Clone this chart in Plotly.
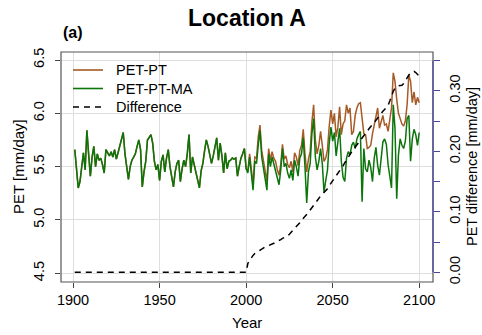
import plotly.graph_objects as go

years_hist = list(range(1901, 2001))
years_fut = list(range(2001, 2101))

# PET-PT-MA (and PET-PT, identical) 1901-2000
pet_hist = [
    5.66, 5.45, 5.30, 5.36, 5.50, 5.63, 5.47, 5.84, 5.62, 5.41,
    5.59, 5.69, 5.50, 5.62, 5.56, 5.58, 5.52, 5.44, 5.66, 5.63,
    5.60, 5.64, 5.59, 5.66, 5.57, 5.63, 5.70, 5.78, 5.82, 5.62,
    5.48, 5.38, 5.50, 5.56, 5.59, 5.62, 5.69, 5.75, 5.66, 5.31,
    5.45, 5.55, 5.75, 5.78, 5.80, 5.72, 5.55, 5.47, 5.52, 5.37,
    5.55, 5.61, 5.45, 5.58, 5.66, 5.50, 5.40, 5.31, 5.45, 5.53,
    5.56, 5.36, 5.48, 5.56, 5.50, 5.62, 5.80, 5.44, 5.59, 5.52,
    5.45, 5.38, 5.30, 5.46, 5.53, 5.65, 5.75, 5.69, 5.60, 5.53,
    5.60, 5.70, 5.77, 5.56, 5.72, 5.60, 5.44, 5.63, 5.48, 5.55,
    5.56, 5.58, 5.57, 5.58, 5.41, 5.50, 5.58, 5.62, 5.67, 5.48,
]

# PET-PT-MA 2001-2100
pet_ma_fut = [
    5.44, 5.59, 5.45, 5.28, 5.55, 5.53, 5.70, 5.84, 5.59, 5.47,
    5.40, 5.28, 5.62, 5.50, 5.59, 5.53, 5.47, 5.40, 5.33, 5.47,
    5.67, 5.50, 5.53, 5.44, 5.39, 5.47, 5.37, 5.56, 5.50, 5.41,
    5.58, 5.62, 5.77, 5.50, 5.16, 5.45, 5.53, 5.81, 5.95, 5.59,
    5.47, 5.55, 5.67, 5.53, 5.26, 5.37, 5.47, 5.72, 5.87, 5.74,
    5.82, 5.60, 5.76, 5.86, 5.55, 5.40, 5.36, 5.58, 5.64, 5.61,
    5.70, 5.73, 5.67, 5.76, 5.80, 5.83, 5.17, 5.67, 5.48, 5.45,
    5.56, 5.49, 5.36, 5.58, 5.68, 5.51, 5.42, 5.55, 5.73, 5.76,
    5.71, 5.52, 5.40, 5.30, 6.08, 5.86, 5.20, 5.61, 5.76, 5.70,
    5.67, 5.74, 5.95, 5.98, 5.55, 5.76, 5.85, 5.80, 5.70, 5.82,
]

# PET-PT 2001-2100
pet_pt_fut = [
    5.46, 5.62, 5.48, 5.33, 5.59, 5.58, 5.78, 5.89, 5.65, 5.53,
    5.46, 5.36, 5.67, 5.56, 5.64, 5.58, 5.55, 5.47, 5.42, 5.52,
    5.71, 5.57, 5.60, 5.52, 5.49, 5.55, 5.45, 5.63, 5.59, 5.51,
    5.65, 5.70, 5.85, 5.62, 5.45, 5.57, 5.64, 5.92, 6.08, 5.75,
    5.62, 5.70, 5.83, 5.70, 5.55, 5.58, 5.66, 5.88, 6.03, 5.90,
    6.00, 5.78, 5.87, 6.06, 5.80, 5.90, 5.93, 6.08, 6.00, 6.05,
    5.80, 5.83, 5.98, 6.05, 6.09, 6.10, 5.95, 5.81, 5.80, 5.67,
    5.68, 5.70, 5.81, 5.90, 5.98, 6.05, 5.86, 5.92, 5.98, 5.89,
    5.90, 5.83, 5.95, 6.05, 6.38, 6.30, 6.13, 6.00, 5.95, 5.90,
    5.88, 5.93, 6.08, 6.36, 6.30, 6.10, 6.20, 6.08, 6.15, 6.10,
]

# Difference (right axis) 2001-2100; zero before
diff_hist = [0.0] * 100
diff_fut = [
    0.015, 0.020, 0.025, 0.028, 0.031, 0.033, 0.035, 0.037, 0.038, 0.040,
    0.042, 0.043, 0.044, 0.045, 0.047, 0.048, 0.050, 0.051, 0.053, 0.054,
    0.056, 0.057, 0.058, 0.060, 0.063, 0.066, 0.069, 0.072, 0.075, 0.078,
    0.082, 0.086, 0.089, 0.092, 0.095, 0.099, 0.103, 0.107, 0.111, 0.116,
    0.120, 0.123, 0.126, 0.129, 0.132, 0.135, 0.138, 0.143, 0.147, 0.151,
    0.154, 0.158, 0.162, 0.167, 0.172, 0.176, 0.181, 0.186, 0.191, 0.195,
    0.199, 0.203, 0.207, 0.211, 0.215, 0.219, 0.223, 0.227, 0.230, 0.234,
    0.238, 0.241, 0.244, 0.248, 0.252, 0.255, 0.259, 0.262, 0.266, 0.269,
    0.272, 0.276, 0.283, 0.292, 0.299, 0.304, 0.307, 0.308, 0.308, 0.309,
    0.312, 0.317, 0.321, 0.326, 0.329, 0.331, 0.332, 0.330, 0.326, 0.324,
]

x_ticks = [1900, 1950, 2000, 2050, 2100]
y_ticks = [4.5, 5.0, 5.5, 6.0, 6.5]
y_ticktext = ["4.5", "5.0", "5.5", "6.0", "6.5"]
y2_ticks = [0.0, 0.05, 0.10, 0.15, 0.20, 0.25, 0.30, 0.35]
y2_ticktext = ["0.00", "", "0.10", "", "0.20", "", "0.30", ""]
legend_names = ["PET-PT", "PET-PT-MA", "Difference"]

BROWN = "#A65A26"
GREEN = "#0B750B"
AXBLUE = "#4646A0"
FONT = "Liberation Sans, Arial, sans-serif"

# plot area in pixels
L, R, T, B = 61, 433, 52, 282
PW, PH = R - L, B - T


def px(xp):
    return (xp - L) / PW


def py(yp):
    return (B - yp) / PH


years_all = years_hist + years_fut
fig = go.Figure()
fig.add_trace(go.Scatter(x=years_all, y=pet_hist + pet_pt_fut, mode="lines",
                         name=legend_names[0], line=dict(color=BROWN, width=1.5)))
fig.add_trace(go.Scatter(x=years_all, y=pet_hist + pet_ma_fut, mode="lines",
                         name=legend_names[1], line=dict(color=GREEN, width=1.5)))
fig.add_trace(go.Scatter(x=years_all, y=diff_hist + diff_fut, mode="lines",
                         name=legend_names[2], yaxis="y2",
                         line=dict(color="black", width=1.5, dash="6px,5px")))

# custom legend (R-style compact spacing)
leg_styles = [dict(color=BROWN, width=1.6), dict(color=GREEN, width=1.6),
              dict(color="black", width=1.6, dash="6px,5px")]
leg_rows = [70, 88.5, 107]
shapes = [
    dict(type="rect", xref="paper", yref="paper", x0=0, x1=1, y0=0, y1=1,
         line=dict(color="#555", width=1.2), layer="above"),
    dict(type="line", xref="paper", yref="y2", x0=1, x1=1, y0=0, y1=0.35,
         line=dict(color=AXBLUE, width=1.2), layer="above"),
]
annotations = [
    dict(text="<b>Location A</b>", xref="paper", yref="paper",
         x=px(247), y=1, yshift=34, xanchor="center", yanchor="middle",
         showarrow=False, font=dict(size=23)),
    dict(text="<b>(a)</b>", xref="paper", yref="paper",
         x=0, y=1, xshift=0, yshift=20, xanchor="left", yanchor="middle",
         showarrow=False, font=dict(size=16)),
    dict(text="Year", xref="paper", yref="paper", x=0.5, y=0,
         yshift=-40, xanchor="center", yanchor="middle", showarrow=False,
         font=dict(size=15)),
    dict(text="PET [mm/day]", xref="paper", yref="paper",
         x=0, y=0.5, xshift=-43, xanchor="center", yanchor="middle",
         textangle=-90, showarrow=False, font=dict(size=15)),
    dict(text="PET difference [mm/day]", xref="paper", yref="paper",
         x=1, y=0.5, xshift=39, xanchor="center", yanchor="middle",
         textangle=-90, showarrow=False, font=dict(size=14.5)),
]
for name, st, yr in zip(legend_names, leg_styles, leg_rows):
    shapes.append(dict(type="line", xref="paper", yref="paper",
                       x0=px(73), x1=px(103), y0=py(yr), y1=py(yr),
                       line=st, layer="above"))
    annotations.append(dict(text=name, xref="paper", yref="paper",
                            x=px(114), y=py(yr), xanchor="left",
                            yanchor="middle", showarrow=False,
                            font=dict(size=14.5)))

fig.update_layout(
    width=482, height=335,
    margin=dict(l=L, r=482 - R, t=T, b=335 - B),
    paper_bgcolor="white", plot_bgcolor="white",
    font=dict(family=FONT, size=14.5, color="black"),
    showlegend=False,
    xaxis=dict(range=[1893.04, 2107.96], tickvals=x_ticks,
               showgrid=True, gridcolor="#DEDEDE", gridwidth=1.3,
               ticks="outside", ticklen=5, tickcolor="#444",
               showline=False, zeroline=False),
    yaxis=dict(range=[4.418, 6.575], tickvals=y_ticks, ticktext=y_ticktext,
               tickangle=-90, showgrid=True, gridcolor="#DEDEDE", gridwidth=1.3,
               ticks="outside", ticklen=5, tickcolor="#444",
               ticklabelstandoff=5,
               showline=False, zeroline=False),
    yaxis2=dict(range=[-0.016, 0.364], overlaying="y", side="right",
                tickvals=y2_ticks, ticktext=y2_ticktext, tickangle=-90,
                showgrid=False, zeroline=False, showline=False,
                ticks="outside", ticklen=6, tickcolor=AXBLUE,
                ticklabelstandoff=3),
    shapes=shapes,
    annotations=annotations,
)

fig.write_html("out.html")
